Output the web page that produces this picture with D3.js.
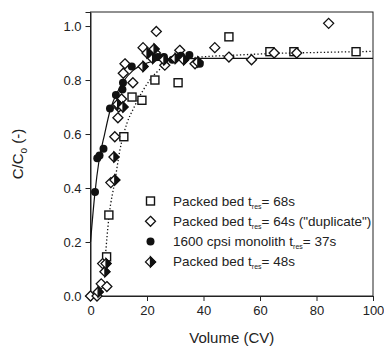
<!DOCTYPE html>
<html>
<head>
<meta charset="utf-8">
<script src="https://cdn.jsdelivr.net/npm/d3@7"></script>
<style>
  body { margin: 0; background: #fff; }
  svg { font-family: "Liberation Sans", Arial, sans-serif; }
</style>
</head>
<body>
<div id="chart"></div>
<script>
// Packed bed tres = 68s (open squares)
const bed68 = [[5.7,0.145],[6.5,0.30],[11.8,0.59],[14.7,0.737],[18.2,0.725],[22.8,0.80],[31,0.79],[49,0.96],[63.5,0.905],[72,0.905],[94,0.905]];
// Packed bed tres = 64s duplicate (open diamonds)
const bed64 = [[0,0],[2.3,0.0],[3.8,0.045],[5.8,0.035],[4.3,0.12],[7.2,0.42],[8.6,0.59],[9.7,0.66],[10,0.70],[11,0.73],[15,0.79],[11.6,0.825],[12.2,0.86],[18.6,0.92],[23.3,0.98],[23,0.90],[26.3,0.855],[31.6,0.91],[37,0.86],[44,0.92],[49,0.885],[57,0.875],[65,0.90],[73,0.90],[84.3,1.01]];
// 1600 cpsi monolith tres = 37s (filled circles)
const mono37 = [[1.6,0.385],[2.4,0.51],[3.2,0.52],[4.6,0.545],[6.9,0.695],[9,0.745],[11.3,0.765],[11.5,0.79],[14.6,0.85],[23.8,0.885],[26,0.885],[29,0.875],[32,0.89],[35,0.893],[38.7,0.86]];
// Packed bed tres = 48s (half filled diamonds)
const bed48 = [[2.7,0.015],[5.1,0.09],[5.5,0.12],[8.6,0.43],[8.3,0.515],[9.6,0.71],[11.5,0.70],[18.6,0.85],[20,0.9],[22,0.88],[22.5,0.915],[26,0.875],[30,0.88],[33,0.875],[38,0.867]];
// fitted curves
const fitMono = [[0,0.2],[1.6,0.385],[3,0.5],[5,0.6],[7,0.69],[10,0.765],[12,0.8],[15,0.835],[20,0.863],[25,0.874],[30,0.878],[40,0.88],[100,0.88]];
const fitBed = [[5.2,0.14],[6.5,0.29],[8.7,0.43],[10.4,0.54],[12.9,0.64],[15,0.69],[18.5,0.76],[21,0.80],[24.6,0.84],[28,0.865],[31.6,0.875],[36,0.882],[41,0.887],[49,0.891],[63.5,0.898],[80,0.902],[94,0.905],[100,0.906]];

const xTicks = [0, 20, 40, 60, 80, 100];
const yTicks = [0, 0.2, 0.4, 0.6, 0.8, 1.0];
const legendLabels = [
  ['square', 'Packed bed t', 'res', '= 68s'],
  ['diamond', 'Packed bed t', 'res', '= 64s ("duplicate")'],
  ['circle', '1600 cpsi monolith t', 'res', '= 37s'],
  ['half', 'Packed bed t', 'res', '= 48s']
];

const width = 384, height = 350;
const margin = {top: 12, right: 11, bottom: 54, left: 90.5};

const svg = d3.select('#chart').append('svg')
  .attr('width', width).attr('height', height);

const x = d3.scaleLinear().domain([0, 100]).range([margin.left, width - margin.right]);
const y = d3.scaleLinear().domain([0, 1.052]).range([height - margin.bottom, margin.top]);

// frame
svg.append('rect')
  .attr('x', x(0)).attr('y', y(1.052))
  .attr('width', x(100) - x(0)).attr('height', y(0) - y(1.052))
  .attr('fill', 'none').attr('stroke', '#222').attr('stroke-width', 1);

const xAxis = svg.append('g')
  .attr('transform', `translate(0,${y(0)})`)
  .call(d3.axisBottom(x).tickValues(xTicks).tickSize(5).tickPadding(5).tickFormat(d3.format('d')));
const yAxis = svg.append('g')
  .attr('transform', `translate(${x(0)},0)`)
  .call(d3.axisLeft(y).tickValues(yTicks).tickSize(5).tickPadding(4).tickFormat(d3.format('.1f')));

[xAxis, yAxis].forEach(g => {
  g.select('.domain').attr('stroke', '#222');
  g.selectAll('.tick line').attr('stroke', '#222');
  g.selectAll('.tick text').attr('fill', '#222').style('font-size', '13px')
    .style('font-family', '"Liberation Sans", Arial, sans-serif');
});

// axis titles
svg.append('text')
  .attr('x', (x(0) + x(100)) / 2).attr('y', 343)
  .attr('text-anchor', 'middle').attr('fill', '#222')
  .style('font-size', '15px').text('Volume (CV)');

const yl = svg.append('text')
  .attr('transform', `translate(23,${(y(0) + y(1.052)) / 2}) rotate(-90)`)
  .attr('text-anchor', 'middle').attr('fill', '#222')
  .style('font-size', '15px');
yl.append('tspan').text('C/C');
yl.append('tspan').attr('dy', 4).style('font-size', '10px').text('o');
yl.append('tspan').attr('dy', -4).text(' (-)');

// fit lines
const line = d3.line().x(d => x(d[0])).y(d => y(d[1])).curve(d3.curveMonotoneX);
svg.append('path').datum(fitMono)
  .attr('d', line).attr('fill', 'none').attr('stroke', '#111').attr('stroke-width', 1.2);
svg.append('path').datum(fitBed)
  .attr('d', line).attr('fill', 'none').attr('stroke', '#111')
  .attr('stroke-width', 1.3).attr('stroke-dasharray', '1.3,2.2');

// marker drawing
function drawMarker(g, type, cx, cy) {
  if (type === 'square') {
    g.append('rect').attr('x', cx - 4).attr('y', cy - 4).attr('width', 8).attr('height', 8)
      .attr('fill', '#fff').attr('stroke', '#111').attr('stroke-width', 1.4);
  } else if (type === 'diamond' || type === 'half') {
    const r = 5;
    g.append('path')
      .attr('d', `M${cx},${cy - r}L${cx + r},${cy}L${cx},${cy + r}L${cx - r},${cy}Z`)
      .attr('fill', '#fff').attr('stroke', '#111').attr('stroke-width', 1.3);
    if (type === 'half') {
      g.append('path')
        .attr('d', `M${cx},${cy - r}L${cx + r},${cy}L${cx},${cy + r}Z`)
        .attr('fill', '#111').attr('stroke', '#111').attr('stroke-width', 1.3);
    }
  } else {
    g.append('circle').attr('cx', cx).attr('cy', cy).attr('r', 4)
      .attr('fill', '#111');
  }
}

const series = [['square', bed68], ['diamond', bed64], ['circle', mono37], ['half', bed48]];
const pts = svg.append('g');
series.forEach(([type, data]) => {
  data.forEach(d => drawMarker(pts, type, x(d[0]), y(d[1])));
});

// legend
const lg = svg.append('g');
legendLabels.forEach((row, i) => {
  const ly = 201 + i * 20.3;
  drawMarker(lg, row[0], 150.5, ly);
  const t = lg.append('text').attr('x', 173).attr('y', ly + 4.5)
    .attr('fill', '#222').style('font-size', '13.5px');
  t.append('tspan').text(row[1]);
  t.append('tspan').attr('dy', 3).style('font-size', '7px').text(row[2]);
  t.append('tspan').attr('dy', -3).text(row[3]);
});
</script>
</body>
</html>
